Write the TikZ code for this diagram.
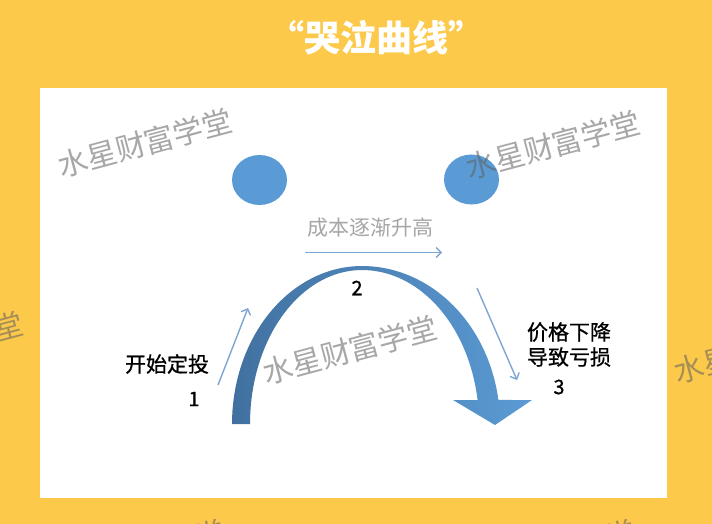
\documentclass[tikz,border=0pt]{standalone}
\usepackage{fontspec}
\usetikzlibrary{arrows.meta,shapes.geometric}
\newfontfamily\cjk{Noto Sans CJK SC}
\newfontfamily\cjkm{Noto Sans CJK SC}[FakeBold=0.8]
\definecolor{bgy}{HTML}{FDC94B}
\definecolor{eyeblue}{HTML}{5B9BD5}
\definecolor{thinblue}{HTML}{7EA6D2}
\definecolor{arcL}{HTML}{41709F}
\definecolor{arcR}{HTML}{5B9BD5}
\definecolor{capgray}{HTML}{A6A6A6}
\definecolor{wmgray}{HTML}{606060}
\tikzset{
  eyestyle/.style={ellipse, fill=eyeblue, minimum width=55pt, minimum height=50pt, inner sep=0pt},
  txt/.style={font=\cjkm\fontsize{21}{26}\selectfont, text=black, inner sep=0pt, align=center},
  numtxt/.style={font=\cjkm\fontsize{20}{24}\selectfont, text=black, inner sep=0pt},
  captxt/.style={font=\cjk\fontsize{21}{25}\selectfont, text=capgray, inner sep=0pt},
  wm/.style={font=\cjk\fontsize{30}{34}\selectfont, text=wmgray, text opacity=0.55, rotate=15, inner sep=0pt},
  titletxt/.style={font=\cjk\bfseries\fontsize{36}{40}\selectfont, text=white, inner sep=0pt},
  thinarrow/.style={draw=thinblue, line width=1.4pt, -{Straight Barb[length=5pt,width=10pt]}}
}
\begin{document}
\begin{tikzpicture}[x=1pt,y=-1pt]
\useasboundingbox (0,0) rectangle (712,524);
\clip (0,0) rectangle (712,524);
\fill[bgy] (0,0) rectangle (712,524);
\fill[white] (40,88) rectangle (667,498);
% eyes
\node[eyestyle] (eyeL) at (259.5,180) {};
\node[eyestyle] (eyeR) at (471.5,179.5) {};
% big curved arrow
\begin{scope}
\clip
  plot[domain=180:90,samples=40] ({362+130*cos(\x)},{424-158*sin(\x)})
  -- plot[domain=90:8.74,samples=40] ({362+138*cos(\x)},{424-158*sin(\x)})
  -- (532,400) -- (495,425) -- (453,400)
  -- plot[domain=8.96:90,samples=40] ({362+117*cos(\x)},{424-154*sin(\x)})
  -- plot[domain=90:180,samples=40] ({362+112*cos(\x)},{424-154*sin(\x)})
  -- cycle;
\shade[left color=arcL, right color=arcR] (226,260) rectangle (536,430);
\end{scope}
% thin arrows
\coordinate (a1s) at (218,385);
\coordinate (a1e) at (248,308);
\coordinate (a2s) at (305,252.5);
\coordinate (a2e) at (442,252.5);
\coordinate (a3s) at (477,288);
\coordinate (a3e) at (517,380);
\draw[thinarrow] (a1s) -- (a1e);
\draw[thinarrow] (a2s) -- (a2e);
\draw[thinarrow] (a3s) -- (a3e);
% labels
\node[captxt] (cost) at (370,228) {成本逐渐升高};
\node[txt] (start) at (167,364) {开始定投};
\node[numtxt] (n1) at (194,399) {1};
\node[numtxt] (n2) at (357,288) {2};
\node[txt] (loss1) at (569,332) {价格下降};
\node[txt] (loss2) at (569,357) {导致亏损};
\node[numtxt] (n3) at (559,387) {3};
% watermarks
\node[wm] (w1) at (145,143) {水星财富学堂};
\node[wm] (w2) at (553,145) {水星财富学堂};
\node[wm] (w3) at (350,350) {水星财富学堂};
\node[wm] (w4) at (-64,346) {水星财富学堂};
\node[wm] (w5) at (761,349) {水星财富学堂};
\node[wm] (w6) at (138,554) {水星财富学堂};
\node[wm] (w7) at (549,554) {水星财富学堂};
% title
\node[titletxt] (title) at (376,38) {“哭泣曲线”};
\end{tikzpicture}
\end{document}
